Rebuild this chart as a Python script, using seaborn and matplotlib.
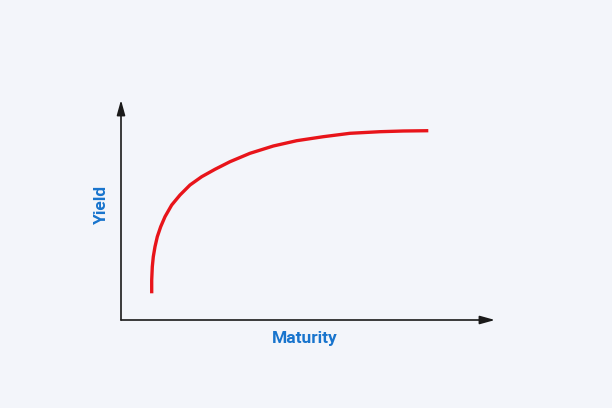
import matplotlib
matplotlib.use("Agg")
import matplotlib.pyplot as plt
import pandas as pd
import seaborn as sns

# yield curve (arbitrary units, origin at the axes corner)
maturity = [30.7, 30.7, 31.3, 32.3, 34, 36.3, 39.7, 44, 50.7, 59, 69, 80.7,
            94, 109, 129, 152.3, 175.7, 202.3, 229, 259, 282.3, 307.3]
yield_vals = [26.7, 40, 53.3, 63.3, 73.3, 83.3, 93.3, 103.3, 115, 125, 135,
              143.3, 150.7, 158.3, 166.7, 174, 179.3, 183.3, 186.7, 188.3,
              189, 189.3]

BG = "#f3f5fa"
BLUE = "#1874cd"
RED = "#e8141a"

sns.set_style("white")
plt.rcParams["font.family"] = ["Roboto", "DejaVu Sans"]

df = pd.DataFrame({"Maturity": maturity, "Yield": yield_vals})

fig = plt.figure(figsize=(6.12, 4.08), dpi=100, facecolor=BG)
ax = fig.add_axes([121 / 612, 88 / 408, 374 / 612, 220 / 408])
ax.set_facecolor(BG)

sns.lineplot(data=df, x="Maturity", y="Yield", color=RED, lw=2.4,
             sort=False, estimator=None, errorbar=None, ax=ax)
ax.lines[0].set_solid_capstyle("butt")
ax.lines[0].set_solid_joinstyle("round")

ax.set_xlim(0, 374)
ax.set_ylim(0, 220)
for s in ax.spines.values():
    s.set_visible(False)
ax.set_xticks([])
ax.set_yticks([])
ax.set_xlabel("")
ax.set_ylabel("")

# axis arrows
arrow = dict(arrowstyle="-|>,head_length=0.9,head_width=0.25", color="#1a1a1a",
             lw=1.2, shrinkA=0, shrinkB=0)
ax.annotate("", xy=(1, 0), xytext=(0, 0), xycoords="axes fraction",
            arrowprops=arrow, annotation_clip=False)
ax.annotate("", xy=(0, 1), xytext=(0, 0), xycoords="axes fraction",
            arrowprops=arrow, annotation_clip=False)

fig.text(305 / 612, 1 - 339 / 408, "Maturity", color=BLUE, fontsize=12.5,
         fontweight="bold", ha="center", va="center")
fig.text(101 / 612, 1 - 204 / 408, "Yield", color=BLUE, fontsize=12.5,
         fontweight="bold", ha="center", va="center", rotation=90)

fig.savefig("out.png", dpi=100, facecolor=BG)
